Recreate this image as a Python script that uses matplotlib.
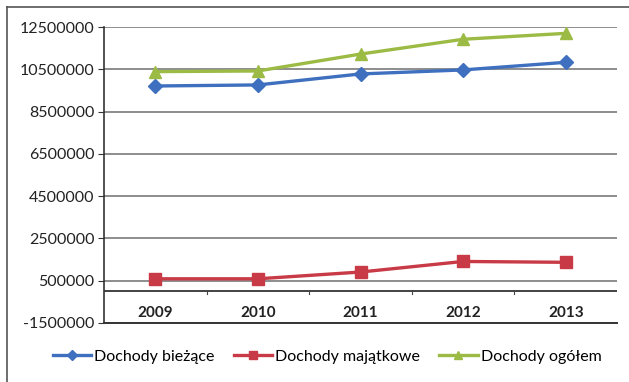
import matplotlib
matplotlib.use("Agg")
import matplotlib.pyplot as plt
from matplotlib.lines import Line2D
from matplotlib.ticker import FixedLocator

plt.rcParams["font.family"] = ["Lato", "DejaVu Sans"]

# revenue by year (PLN)
years = ["2009", "2010", "2011", "2012", "2013"]
biezace = [9710000, 9760000, 10280000, 10470000, 10830000]
majatkowe = [590000, 590000, 910000, 1410000, 1370000]
ogolem = [10390000, 10420000, 11220000, 11920000, 12200000]
y_ticks = [-1500000, 500000, 2500000, 4500000, 6500000, 8500000, 10500000, 12500000]

series = [
    ("Dochody bieżące", biezace, "#3F6FBF", "D", 7),
    ("Dochody majątkowe", majatkowe, "#C83A45", "s", 9),
    ("Dochody ogółem", ogolem, "#9BBB45", "^", 9),
]

fig = plt.figure(figsize=(6.29, 3.82), dpi=100)
ax = fig.add_axes([0.1653, 0.1545, 0.8157, 0.7748])

x = list(range(len(years)))
for name, vals, color, marker, ms in series:
    ax.plot(x, vals, color=color, lw=2.4, marker=marker, ms=ms,
            markeredgecolor=color, label=name, zorder=3)

ax.set_xlim(-0.5, len(years) - 0.5)
ax.set_ylim(y_ticks[0], y_ticks[-1])
ax.yaxis.set_major_locator(FixedLocator(y_ticks))
ax.yaxis.set_major_formatter(lambda v, p: f"{v:.0f}")
ax.grid(axis="y", color="#7a7a7a", lw=1.2)
ax.set_axisbelow(True)

# category axis crosses at zero, labels sit just above the bottom edge
ax.axhline(0, color="#222222", lw=1.2, zorder=2)
for b in [i + 0.5 for i in x[:-1]]:
    ax.plot([b, b], [0, -150000], color="#444444", lw=0.8, zorder=2)
ax.set_xticks([])
for xi, yr in zip(x, years):
    ax.text(xi, -1050000, yr, ha="center", va="center", fontsize=11,
            fontweight="bold", color="#222222")

for side in ["top", "right"]:
    ax.spines[side].set_visible(False)
ax.spines["left"].set_color("#333333")
ax.spines["bottom"].set_color("#333333")
ax.spines["left"].set_linewidth(1.2)
ax.spines["bottom"].set_linewidth(1.4)
ax.tick_params(axis="y", length=4, labelsize=11.5, colors="#333333", pad=3)
ax.tick_params(axis="y", labelcolor="#222222")

fig.legend(loc="center", bbox_to_anchor=(0.52, 0.066), ncol=3, frameon=False,
           fontsize=11.5, handlelength=2.4, columnspacing=1.2, handletextpad=0.2,
           markerscale=0.7)

# outer chart border (left and top edges)
fig.add_artist(Line2D([7 / 629, 7 / 629], [0, 1 - 7 / 382], color="#555555", lw=1.2))
fig.add_artist(Line2D([7 / 629, 1], [1 - 7 / 382, 1 - 7 / 382], color="#555555", lw=1.2))

fig.savefig("out.png", dpi=100)
